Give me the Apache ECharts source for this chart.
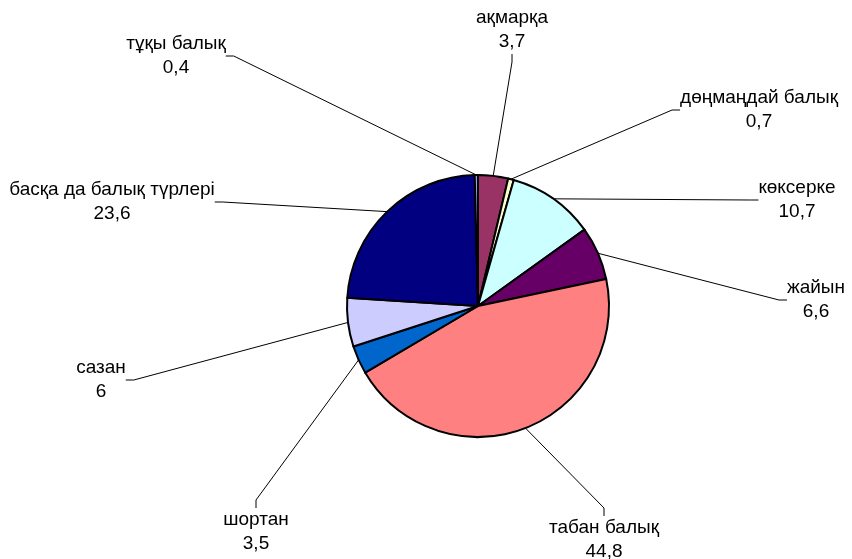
<!DOCTYPE html>
<html>
<head>
<meta charset="UTF-8">
<title></title>
<script src="https://cdn.jsdelivr.net/npm/echarts@6/dist/echarts.min.js"></script>
<style>
  html, body { margin: 0; padding: 0; background: #fff; }
</style>
</head>
<body>
<div id="chart1" style="width: 852px;height: 559px;"></div>
<script type="text/javascript">
// categories / values, clockwise from 12 o'clock
var names = ['ақмарқа', 'дөңмаңдай балық', 'көксерке', 'жайын', 'табан балық', 'шортан', 'сазан', 'басқа да балық түрлері', 'тұқы балық'];
var values = [3.7, 0.7, 10.7, 6.6, 44.8, 3.5, 6, 23.6, 0.4];
var colors = ['#993366', '#FFFFCC', '#CCFFFF', '#660066', '#FF8080', '#0066CC', '#CCCCFF', '#000080', '#9999FF'];

// where each label block sits (centre), same order as names
var labelPos = [[512, 30], [759, 110], [797, 200], [816, 300], [604, 540], [256, 532], [101, 380], [112, 202], [176, 56]];

var chart1 = echarts.init(document.getElementById('chart1'));

var data = [];
for (var i = 0; i < names.length; i++) {
    data.push({ name: names[i], value: values[i], itemStyle: { color: colors[i] } });
}

var option = {
    animation: false,
    series: [{
        type: 'pie',
        center: [478, 306],
        radius: 131,
        startAngle: 90,
        clockwise: true,
        avoidLabelOverlap: false,
        data: data,
        itemStyle: { borderColor: '#000', borderWidth: 2 },
        label: {
            show: true,
            color: '#000',
            fontFamily: 'Arial, "Liberation Sans", sans-serif',
            fontSize: 19,
            lineHeight: 24,
            align: 'center',
            formatter: function (p) {
                return p.name + '\n' + String(p.value).replace('.', ',');
            }
        },
        labelLine: {
            show: true,
            length: 10,
            length2: 8,
            lineStyle: { color: '#000', width: 1 }
        },
        labelLayout: function (params) {
            var p = labelPos[params.dataIndex];
            return { x: p[0], y: p[1], align: 'center', verticalAlign: 'middle' };
        },
        emphasis: { disabled: true }
    }]
};
chart1.setOption(option);
</script>
</body>
</html>
